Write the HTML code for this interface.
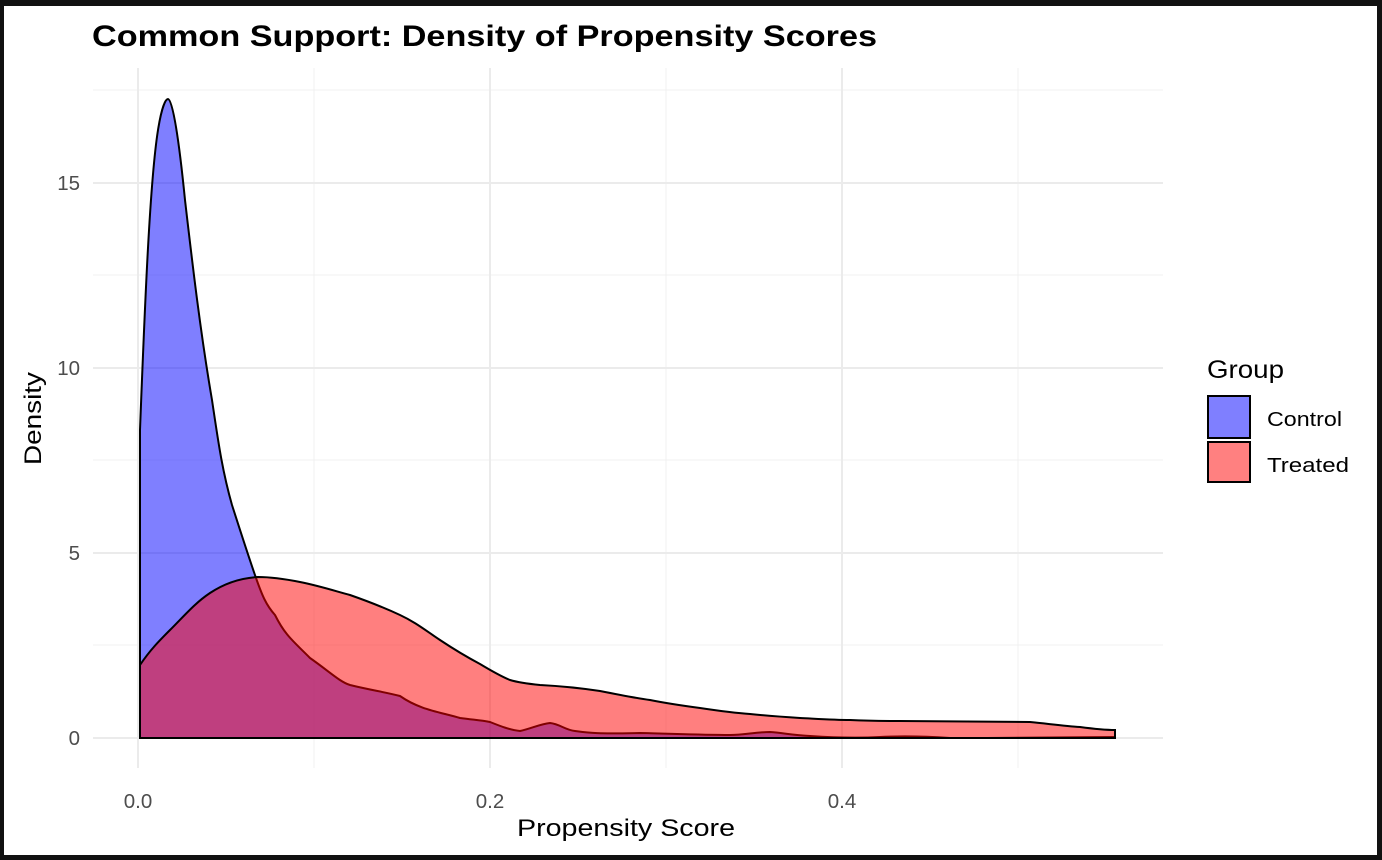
<!DOCTYPE html>
<html><head><meta charset="utf-8"><style>
html,body{margin:0;padding:0;background:#111;}
svg{display:block;}
text{font-family:"Liberation Sans",Arial,sans-serif;}
</style></head><body>
<svg width="1382" height="860" viewBox="0 0 1382 860">
<rect x="0" y="0" width="1382" height="860" fill="#111"/>
<rect x="4" y="6" width="1373" height="849" fill="#fff"/>
<g stroke="#f0f0f0" stroke-width="1">
<line x1="93" x2="1163" y1="645" y2="645"/><line x1="93" x2="1163" y1="460" y2="460"/>
<line x1="93" x2="1163" y1="275" y2="275"/><line x1="93" x2="1163" y1="90" y2="90"/>
<line x1="314" x2="314" y1="68" y2="768"/><line x1="666" x2="666" y1="68" y2="768"/><line x1="1018" x2="1018" y1="68" y2="768"/>
</g>
<g stroke="#ebebeb" stroke-width="2">
<line x1="93" x2="1163" y1="738" y2="738"/><line x1="93" x2="1163" y1="553" y2="553"/>
<line x1="93" x2="1163" y1="368" y2="368"/><line x1="93" x2="1163" y1="183" y2="183"/>
<line x1="138" x2="138" y1="68" y2="768"/><line x1="490" x2="490" y1="68" y2="768"/><line x1="842" x2="842" y1="68" y2="768"/>
</g>
<path d="M140,738 L140,430 C145,300 150,180 158,130 C162,105 166,99 168,99 C172,99 178,130 185,200 C192,260 200,330 212,400 C218,440 222,470 232,505 C240,530 248,555 256,578 C262,595 266,605 275,615 C285,635 292,640 310,658 C330,672 340,682 350,685 C370,690 385,692 400,696 C420,710 440,712 460,718 C475,720 480,720 490,722 C500,726 510,730 520,731 C530,729 540,724 550,723 C560,724 565,730 575,731 C590,733 595,734 640,733 C680,734 700,735 730,735 C745,735 755,732 770,732 C785,733 790,735 810,736 C840,738 860,738 880,737 C900,736 920,736 950,738 C1000,738 1030,738 1115,737 L1115,738 Z" fill="#0000ff" fill-opacity="0.5" stroke="#000" stroke-width="2"/>
<path d="M140,738 L140,665 C150,650 160,640 170,630 C185,615 195,603 210,593 C225,583 240,578 258,577 C275,577 290,580 300,582 C320,586 335,591 350,595 C370,602 385,608 400,615 C415,622 425,630 440,640 C455,650 465,656 480,664 C490,670 500,676 510,680 C520,683 530,684 540,685 C560,686 580,688 600,691 C620,695 635,698 650,700 C670,704 685,706 700,708 C720,711 735,713 750,714 C770,716 785,717 800,718 C820,719 835,720 850,720 C870,721 885,721 900,721 L1030,722 C1050,724 1065,726 1080,727 C1095,729 1105,730 1115,730 L1115,738 Z" fill="#ff0000" fill-opacity="0.5" stroke="#000" stroke-width="2"/>
<g fill="#4d4d4d" font-size="20.5">
<text x="80" y="745" text-anchor="end">0</text>
<text x="80" y="560" text-anchor="end">5</text>
<text x="80" y="375" text-anchor="end">10</text>
<text x="80" y="190" text-anchor="end">15</text>
<text x="138" y="808" text-anchor="middle">0.0</text>
<text x="490" y="808" text-anchor="middle">0.2</text>
<text x="842" y="808" text-anchor="middle">0.4</text>
</g>
<text x="517" y="836" font-size="24" fill="#000" textLength="218" lengthAdjust="spacingAndGlyphs">Propensity Score</text>
<text transform="translate(41,465) rotate(-90)" font-size="24" fill="#000" textLength="93" lengthAdjust="spacingAndGlyphs">Density</text>
<text x="92" y="46" font-size="30" font-weight="bold" fill="#000" textLength="785" lengthAdjust="spacingAndGlyphs">Common Support: Density of Propensity Scores</text>
<text x="1207" y="378" font-size="25" fill="#000" textLength="77" lengthAdjust="spacingAndGlyphs">Group</text>
<rect x="1208" y="396" width="42" height="42" fill="#7f7fff" stroke="#000" stroke-width="2"/>
<rect x="1208" y="442" width="42" height="40" fill="#ff8080" stroke="#000" stroke-width="2"/>
<text x="1267" y="426" font-size="20" fill="#000" textLength="75" lengthAdjust="spacingAndGlyphs">Control</text>
<text x="1267" y="472" font-size="20" fill="#000" textLength="82" lengthAdjust="spacingAndGlyphs">Treated</text>
</svg>
</body></html>
